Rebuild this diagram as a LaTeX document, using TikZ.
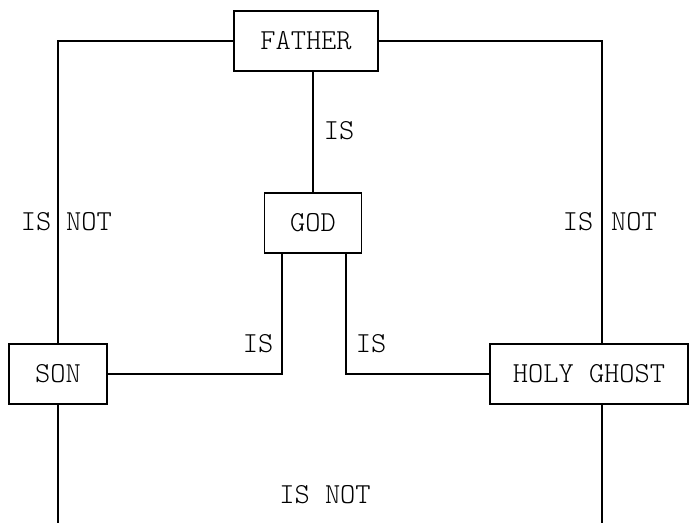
\documentclass[tikz,border=0pt]{standalone}
\usepackage{fontspec}
\newfontfamily\lightmono{Latin Modern Mono Light}
\begin{document}
\begin{tikzpicture}[x=1pt,y=-1pt,
  box/.style={draw,line width=1.6pt,inner sep=0pt,minimum height=60pt,font=\lightmono\fontsize{29}{34}\selectfont},
  lbl/.style={inner sep=0pt,font=\lightmono\fontsize{29}{34}\selectfont},
  wire/.style={line width=1.6pt}]
\useasboundingbox (0,0) rectangle (689,523);
\node[box,minimum width=144pt] (father) at (306,41) {FATHER};
\node[box,minimum width=97pt] (god) at (313,223) {GOD};
\node[box,minimum width=98pt] (son) at (58,374) {SON};
\node[box,minimum width=198pt] (hg) at (589,374) {HOLY GHOST};
\coordinate (hgtop) at (602,344);
\coordinate (hgbot) at (602,404);
\coordinate (hgend) at (602,523);
\coordinate (sonend) at (58,523);
\coordinate (gl) at (282,253);
\coordinate (gr) at (346,253);
\draw[wire] (father.west) -| (son.north);
\draw[wire] (father.east) -| (hgtop);
\draw[wire] (god.north) -- (god.north |- father.south);
\draw[wire] (gl) |- (son.east);
\draw[wire] (gr) |- (hg.west);
\draw[wire] (son.south) -- (sonend);
\draw[wire] (hgbot) -- (hgend);
\node[lbl] (l1) at (339,131) {IS};
\node[lbl] (l2) at (36,222) {IS};
\node[lbl] (l3) at (89,222) {NOT};
\node[lbl] (l4) at (578,222) {IS};
\node[lbl] (l5) at (634,222) {NOT};
\node[lbl] (l6) at (258,344) {IS};
\node[lbl] (l7) at (371,344) {IS};
\node[lbl] (l8) at (325,495) {IS NOT};
\end{tikzpicture}
\end{document}
